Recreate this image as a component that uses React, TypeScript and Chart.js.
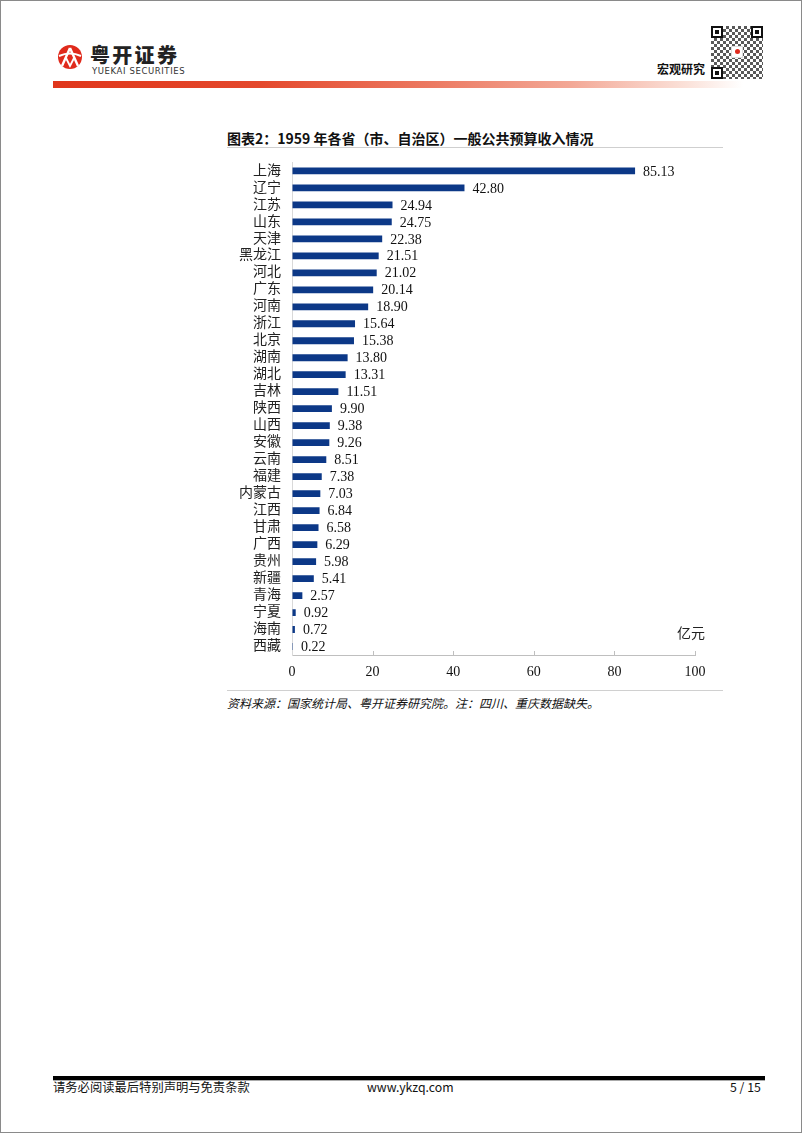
import React, { useEffect, useRef } from "react";
import { Chart, registerables } from "chart.js";

Chart.register(...registerables);

const provinces = [
  "上海", "辽宁", "江苏", "山东", "天津", "黑龙江", "河北", "广东", "河南", "浙江",
  "北京", "湖南", "湖北", "吉林", "陕西", "山西", "安徽", "云南", "福建", "内蒙古",
  "江西", "甘肃", "广西", "贵州", "新疆", "青海", "宁夏", "海南", "西藏",
];
const revenue = [
  85.13, 42.8, 24.94, 24.75, 22.38, 21.51, 21.02, 20.14, 18.9, 15.64,
  15.38, 13.8, 13.31, 11.51, 9.9, 9.38, 9.26, 8.51, 7.38, 7.03,
  6.84, 6.58, 6.29, 5.98, 5.41, 2.57, 0.92, 0.72, 0.22,
];
const xTicks = [0, 20, 40, 60, 80, 100];

const titleText = "图表2：1959 年各省（市、自治区）一般公共预算收入情况";
const sourceText = "资料来源：国家统计局、粤开证券研究院。注：四川、重庆数据缺失。";
const unitText = "亿元";

const SERIF = '"Liberation Serif", "Times New Roman", "Noto Sans CJK SC", serif';
const SANS = '"Noto Sans CJK SC", "Noto Sans", sans-serif';

const overlayPlugin = {
  id: "overlayPlugin",
  afterDatasetsDraw(chart: any) {
    const ctx = chart.ctx;
    const meta = chart.getDatasetMeta(0);
    ctx.save();
    ctx.font = `14px ${SERIF}`;
    ctx.fillStyle = "#111";
    ctx.textBaseline = "middle";
    ctx.textAlign = "left";
    meta.data.forEach((bar: any, i: number) => {
      const p = bar.getProps(["x", "y"], true);
      ctx.fillText(revenue[i].toFixed(2), p.x + 8, p.y + 1);
    });
    const xs = chart.scales.x;
    ctx.strokeStyle = "#bfbfbf";
    ctx.lineWidth = 1;
    xTicks.forEach((v) => {
      if (v === 0) return;
      const px = Math.round(xs.getPixelForValue(v)) + 0.5;
      ctx.beginPath();
      ctx.moveTo(px, xs.top);
      ctx.lineTo(px, xs.top - 4);
      ctx.stroke();
    });
    ctx.restore();
  },
};

function RevenueChart() {
  const ref = useRef<HTMLCanvasElement | null>(null);
  useEffect(() => {
    if (!ref.current) return;
    const chart = new Chart(ref.current, {
      type: "bar",
      data: {
        labels: provinces,
        datasets: [
          {
            data: revenue,
            backgroundColor: "#0c3887",
            borderWidth: 0,
            barPercentage: 0.4,
            categoryPercentage: 1,
          },
        ],
      },
      options: {
        indexAxis: "y",
        animation: false,
        responsive: false,
        devicePixelRatio: 1,
        layout: { padding: { top: 4, right: 28, left: 0, bottom: 0 } },
        plugins: {
          legend: { display: false },
          tooltip: { enabled: false },
        },
        scales: {
          x: {
            type: "linear",
            min: 0,
            max: 100,
            ticks: {
              stepSize: 20,
              font: { family: SERIF, size: 14 },
              color: "#111",
              padding: 9,
              callback: (v: any) => (xTicks.includes(Number(v)) ? String(v) : ""),
            },
            grid: { display: true, drawOnChartArea: false, drawTicks: false },
            border: { display: true, color: "#bfbfbf", width: 1 },
            afterFit: (s: any) => {
              s.height = 34;
            },
          },
          y: {
            type: "category",
            ticks: {
              autoSkip: false,
              font: { family: SERIF, size: 14 },
              color: "#222",
              padding: 11,
            },
            grid: { display: true, drawOnChartArea: false, drawTicks: false },
            border: { display: true, color: "#d9d9d9", width: 1 },
            afterFit: (s: any) => {
              s.width = 65;
            },
          },
        },
      },
      plugins: [overlayPlugin],
    } as any);
    return () => chart.destroy();
  }, []);
  return <canvas ref={ref} width={496} height={546} style={{ display: "block" }} />;
}

function Logo() {
  return (
    <svg width="30" height="24" viewBox="0 0 30 24" style={{ position: "absolute", left: 54, top: 44 }}>
      <circle cx="15" cy="12" r="12" fill="#e02a1c" />
      <path d="M15 3 L7 21 M15 3 L23 21" stroke="#fff" strokeWidth="2.4" fill="none" />
      <path d="M4 11 Q15 6 26 11" stroke="#fff" strokeWidth="2" fill="none" />
      <path d="M11 13 L15 21 L19 13" stroke="#fff" strokeWidth="1.8" fill="none" />
    </svg>
  );
}

function Finder({ left, top }: { left: number; top: number }) {
  return (
    <div
      style={{
        position: "absolute",
        left,
        top,
        width: 12,
        height: 12,
        border: "2px solid #111",
        boxSizing: "border-box",
        background: "#fff",
      }}
    >
      <div style={{ position: "absolute", left: 2, top: 2, width: 4, height: 4, background: "#111" }} />
    </div>
  );
}

function QR() {
  return (
    <div style={{ position: "absolute", left: 710, top: 25, width: 52, height: 53, background: "#fff" }}>
      <div
        style={{
          position: "absolute",
          left: 0,
          top: 0,
          width: 52,
          height: 53,
          backgroundImage:
            "repeating-conic-gradient(#222 0% 25%, #fff 0% 50%), repeating-linear-gradient(45deg, rgba(0,0,0,0.35) 0 2px, transparent 2px 5px)",
          backgroundSize: "6px 6px, auto",
          opacity: 0.75,
        }}
      />
      <Finder left={0} top={0} />
      <Finder left={40} top={0} />
      <Finder left={0} top={41} />
      <div
        style={{
          position: "absolute",
          left: 20,
          top: 20,
          width: 12,
          height: 12,
          background: "#fff",
          border: "1px solid #ddd",
          boxSizing: "border-box",
        }}
      >
        <div style={{ position: "absolute", left: 3, top: 2, width: 5, height: 5, borderRadius: 3, background: "#e02a1c" }} />
      </div>
    </div>
  );
}

export default function App() {
  const abs: React.CSSProperties = { position: "absolute", whiteSpace: "nowrap" };
  return (
    <div
      style={{
        position: "absolute",
        left: 0,
        top: 0,
        width: 802,
        height: 1133,
        boxSizing: "border-box",
        border: "1px solid #8a8a8a",
        background: "#fff",
        overflow: "hidden",
        fontFamily: SANS,
      }}
    >
      {/* Header */}
      <Logo />
      <div style={{ ...abs, left: 89, top: 41, fontSize: 20, fontWeight: 900, letterSpacing: 2.3, color: "#222", lineHeight: "26px" }}>
        粤开证券
      </div>
      <div style={{ ...abs, left: 91, top: 65, fontSize: 8.5, letterSpacing: 0.6, color: "#333", lineHeight: "10px", fontFamily: '"DejaVu Sans", sans-serif' }}>
        YUEKAI SECURITIES
      </div>
      <div
        style={{
          position: "absolute",
          left: 52,
          top: 80,
          width: 690,
          height: 7,
          background:
            "linear-gradient(to right, #e0361b 0%, #e4482c 30%, #ec7a62 55%, #f3a896 75%, #fbe2da 92%, #ffffff 100%)",
        }}
      />
      <QR />
      <div style={{ ...abs, left: 656, top: 60, fontSize: 12, fontWeight: 700, color: "#111", lineHeight: "16px" }}>宏观研究</div>

      {/* Title */}
      <div style={{ ...abs, left: 226, top: 127, fontSize: 14, fontWeight: 700, color: "#111", lineHeight: "20px" }}>
        {titleText}
      </div>
      <div style={{ position: "absolute", left: 226, top: 146, width: 496, height: 1, background: "#cfcfcf" }} />

      {/* Chart */}
      <div style={{ position: "absolute", left: 226, top: 142, width: 496, height: 546 }}>
        <RevenueChart />
      </div>
      <div style={{ ...abs, left: 676, top: 624, fontSize: 14, color: "#222", lineHeight: "18px", fontFamily: SERIF }}>
        {unitText}
      </div>

      {/* Source */}
      <div style={{ position: "absolute", left: 226, top: 689, width: 496, height: 1, background: "#d0d0d0" }} />
      <div style={{ ...abs, left: 226, top: 694, fontSize: 12, fontStyle: "italic", color: "#111", lineHeight: "16px" }}>
        {sourceText}
      </div>

      {/* Footer */}
      <div style={{ position: "absolute", left: 52, top: 1075, width: 712, height: 4, background: "#000" }} />
      <div style={{ position: "absolute", left: 52, top: 1079, width: 712, height: 1, background: "#aaa" }} />
      <div style={{ ...abs, left: 52, top: 1078, fontSize: 12.3, color: "#111", lineHeight: "17px" }}>
        请务必阅读最后特别声明与免责条款
      </div>
      <div style={{ ...abs, left: 366, top: 1078, fontSize: 12.3, color: "#111", lineHeight: "17px" }}>www.ykzq.com</div>
      <div style={{ ...abs, left: 729, top: 1078, fontSize: 12.3, color: "#111", lineHeight: "17px" }}>5 / 15</div>
    </div>
  );
}
